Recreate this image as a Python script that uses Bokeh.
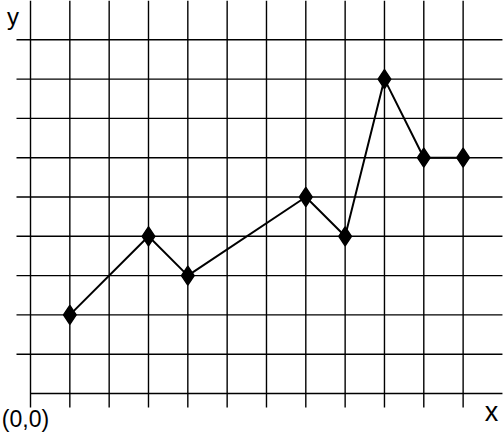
from bokeh.plotting import figure
from bokeh.models import Label
from bokeh.embed import file_html
from bokeh.resources import INLINE

# data
xs = [1, 3, 4, 7, 8, 9, 10, 11]
ys = [2, 4, 3, 5, 4, 8, 6, 6]
x_grid = list(range(0, 12))   # vertical grid lines / ticks
y_grid = list(range(0, 10))   # horizontal grid lines / ticks
x_max = 12
y_max = 10

W, H = 504, 433
tick = 0.356

p = figure(width=W, height=H, x_range=(-0.763, 12.052), y_range=(-1.018, 10.0),
           output_backend="svg", toolbar_location=None,
           x_axis_location=None, y_axis_location=None, min_border=0)
p.outline_line_color = None
p.xgrid.visible = False
p.ygrid.visible = False
p.background_fill_color = "white"

# vertical lines (including y axis) with ticks below
p.segment(x0=x_grid, y0=[-tick] * len(x_grid), x1=x_grid, y1=[y_max] * len(x_grid),
          line_color="black", line_width=1.4)
# horizontal lines with ticks left (x axis starts at 0)
p.segment(x0=[0 if v == 0 else -tick for v in y_grid], y0=y_grid,
          x1=[x_max] * len(y_grid), y1=y_grid,
          line_color="black", line_width=1.4)

# data line and markers
p.line(xs, ys, line_color="black", line_width=2)
p.scatter(xs, ys, marker="diamond", size=19, fill_color="black",
          line_color="black", line_width=1.5)

font = "Liberation Sans"
p.add_layout(Label(x=-0.6, y=9.6, text="y", text_font=font, text_font_size="24px",
                   text_baseline="alphabetic", text_color="black"))
p.add_layout(Label(x=-0.73, y=-0.66, text="(0,0)", text_font=font, text_font_size="23px",
                   text_baseline="alphabetic", text_color="black"))
p.add_layout(Label(x=11.55, y=-0.48, text="x", text_font=font, text_font_size="27px",
                   text_baseline="alphabetic", text_color="black"))

open("out.html", "w").write(file_html(p, INLINE))
